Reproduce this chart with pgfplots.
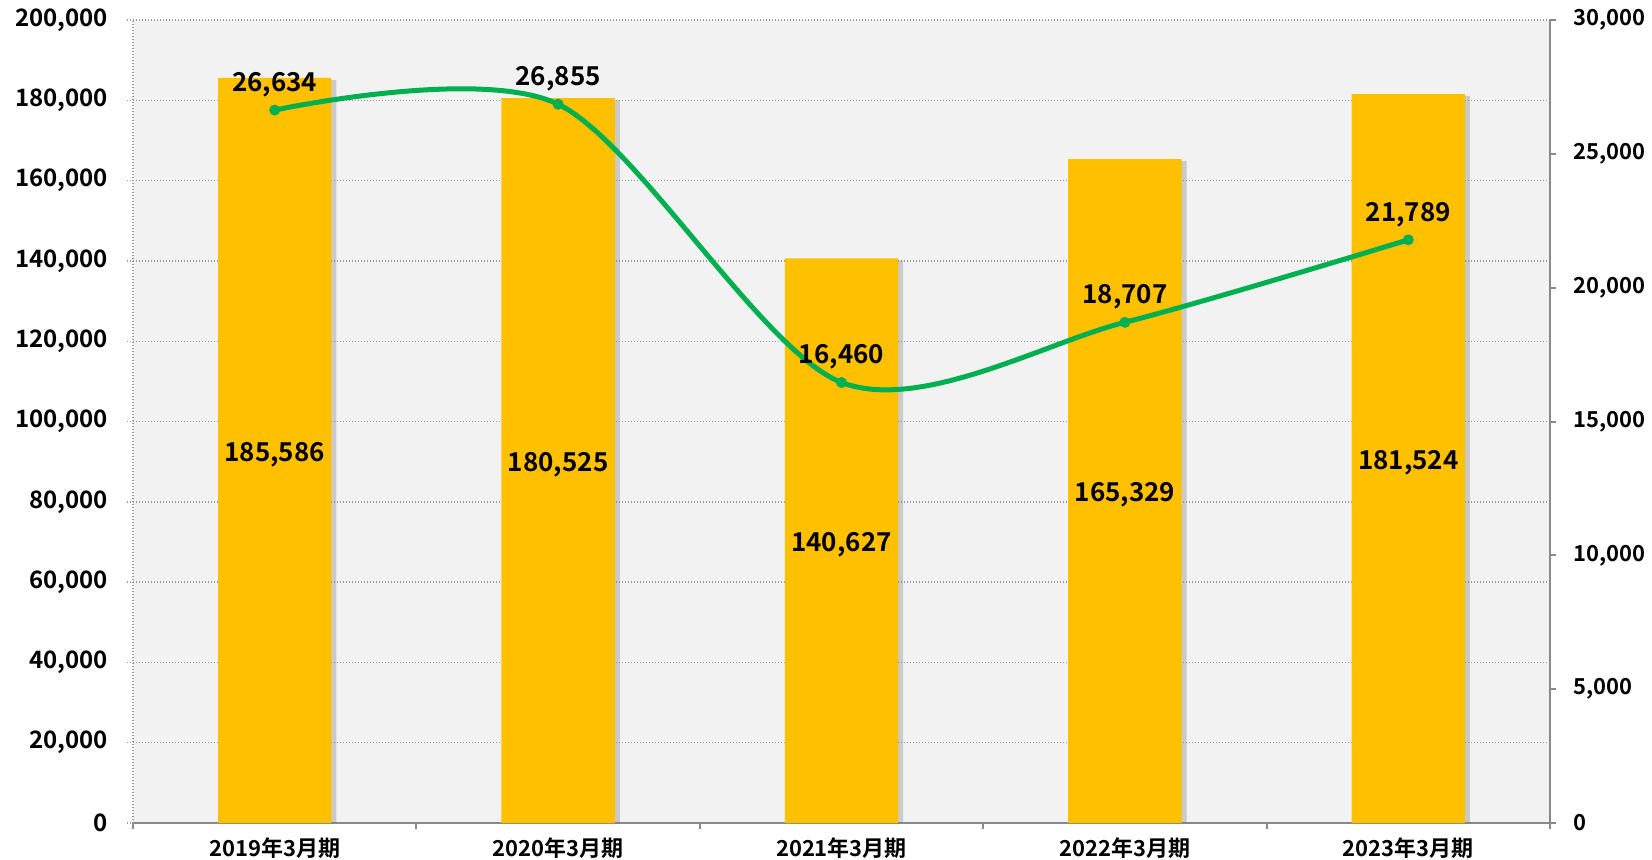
\documentclass[border=0pt]{standalone}
\usepackage{fontspec}
\setmainfont{Noto Sans CJK JP}[UprightFont=* Bold]
\usepackage{pgfplots}
\pgfplotsset{compat=1.18}
\usepackage{pgfplotstable}
\usetikzlibrary{shadows}
\definecolor{barc}{HTML}{FFC000}
\definecolor{linec}{HTML}{00B050}
\definecolor{axc}{HTML}{898989}
\definecolor{gridc}{HTML}{9A9A9A}

\pgfplotstableread{
x sales profit
0 185586 26634
1 180525 26855
2 140627 16460
3 165329 18707
4 181524 21789
}\data

\begin{document}
\begin{tikzpicture}
\pgfplotsset{
  base/.style={
    scale only axis, width=708.5pt, height=401.5pt,
    at={(0,0)}, anchor=south west,
    xmin=-0.5, xmax=4.5, ymin=0,
    /pgf/number format/assume math mode=true,
    tick label style={font=\fontsize{12}{12}\selectfont},
    scaled y ticks=false,
    yticklabel style={/pgf/number format/fixed, /pgf/number format/1000 sep={,}},
    tick align=outside, major tick length=3pt,
  }
}
\begin{axis}[base,
  ymax=200000, ytick={0,20000,...,200000},
  axis background/.style={fill=black!5},
  axis x line*=bottom, axis y line*=left,
  x axis line style={axc, line width=1pt, -},
  y axis line style={gridc, line width=0.7pt, dash pattern=on 0.7pt off 0.8pt, -},
  ymajorgrids,
  grid style={gridc, line width=0.7pt, dash pattern=on 0.7pt off 0.8pt},
  ytick style={gridc, line width=0.7pt, dash pattern=on 0.7pt off 0.8pt},
  xtick={-0.5,0.5,...,4.5}, xticklabels={},
  xtick style={axc, line width=1pt},
  extra x ticks={0,1,2,3,4},
  extra x tick labels={2019年3月期,2020年3月期,2021年3月期,2022年3月期,2023年3月期},
  extra x tick style={major tick length=0pt,
    xticklabel style={font=\fontsize{11}{11}\selectfont, yshift=-4pt}},
  yticklabel style={xshift=-6pt},
]
\addplot[ybar, bar width=0.4, fill=barc, draw=none,
  drop shadow={shadow xshift=2.5pt, shadow yshift=-1pt, opacity=0.35}]
  table[x=x, y=sales]{\data};
\addplot[draw=none, mark=none,
  point meta=explicit,
  nodes near coords={\pgfmathprintnumber[fixed,precision=0,1000 sep={,},assume math mode=true]{\pgfplotspointmeta}},
  every node near coord/.style={anchor=center, yshift=-2pt, text=black, font=\fontsize{13}{13}\selectfont}]
  table[x=x, y expr=\thisrow{sales}/2, meta=sales]{\data};
\end{axis}
\begin{axis}[base,
  ymax=30000, ytick={0,5000,...,30000},
  axis x line=none, axis y line*=right,
  y axis line style={axc, line width=1pt, -},
  ytick style={axc, line width=1pt},
  yticklabel style={xshift=5pt, font=\fontsize{11}{11}\selectfont},
]
\addplot[linec, line width=2.5pt, smooth, tension=0.5, line cap=round,
  mark=*, mark size=1.4pt, mark options={solid, fill=linec},
  point meta=explicit,
  nodes near coords={\pgfmathprintnumber[fixed,precision=0,1000 sep={,},assume math mode=true]{\pgfplotspointmeta}},
  every node near coord/.style={anchor=center, yshift=12.7pt, text=black, font=\fontsize{13}{13}\selectfont}]
  table[x=x, y=profit, meta=profit]{\data};
\end{axis}
\pgfresetboundingbox
\path (-66.5pt,-18pt) rectangle (759.5pt,411.5pt);
\end{tikzpicture}
\end{document}
